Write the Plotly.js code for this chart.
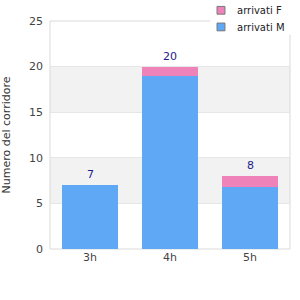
<!DOCTYPE html>
<html><head><meta charset="utf-8">
<script src="https://cdn.plot.ly/plotly-3.0.1.min.js"></script>
<style>html,body{margin:0;padding:0;background:#fff}#chart{width:300px;height:300px}</style>
</head><body><div id="chart"></div>
<script>
var categories = ["3h", "4h", "5h"];
var arrivatiM = [7, 19, 6.8];
var arrivatiF = [0, 1, 1.2];
var totals = [7, 20, 8];
var seriesNames = ["arrivati F", "arrivati M"];
var yTicks = [0, 5, 10, 15, 20, 25];

var colM = "#5fa8f5", colF = "#f082ba";
var font = "DejaVu Sans, sans-serif";

var traces = [
  {type: "bar", x: categories, y: arrivatiM, name: seriesNames[1], marker: {color: colM}, showlegend: false, hoverinfo: "none"},
  {type: "bar", x: categories, y: arrivatiF, name: seriesNames[0], marker: {color: colF}, showlegend: false, hoverinfo: "none"}
];

var shapes = [
  {type: "rect", xref: "paper", yref: "y", x0: 0, x1: 1, y0: 5, y1: 10, fillcolor: "#f2f2f2", line: {width: 0}, layer: "below"},
  {type: "rect", xref: "paper", yref: "y", x0: 0, x1: 1, y0: 15, y1: 20, fillcolor: "#f2f2f2", line: {width: 0}, layer: "below"},
  {type: "rect", xref: "paper", yref: "paper", x0: 0, x1: 1, y0: 0, y1: 1, fillcolor: "rgba(0,0,0,0)", line: {width: 1, color: "#d9d9d9"}, layer: "below"}
];
var annotations = [];
for (var i = 0; i < categories.length; i++) {
  annotations.push({x: categories[i], y: totals[i], text: String(totals[i]), showarrow: false, yanchor: "bottom", yshift: 2, font: {family: font, size: 11, color: "#1c1c8a"}});
}
// legend (manual, white box overlapping plot frame)
shapes.push({type: "rect", xref: "paper", yref: "paper", x0: 0.667, x1: 1.05, y0: 0.94, y1: 1.1, fillcolor: "#fff", line: {width: 0}, layer: "above"});
var legendY = [1.045, 0.972];
var legendCols = [colF, colM];
for (var j = 0; j < seriesNames.length; j++) {
  shapes.push({type: "rect", xref: "paper", yref: "paper", x0: 0.696, x1: 0.729, y0: legendY[j] - 0.015, y1: legendY[j] + 0.019, fillcolor: legendCols[j], line: {width: 1, color: "#777"}, layer: "above"});
  annotations.push({xref: "paper", yref: "paper", x: 0.77, y: legendY[j], xanchor: "left", yanchor: "middle", text: seriesNames[j], showarrow: false, font: {family: font, size: 10, color: "#222"}});
}

var layout = {
  width: 300, height: 300,
  margin: {l: 50, r: 10, t: 21, b: 51},
  barmode: "stack", bargap: 0.29,
  paper_bgcolor: "#fff", plot_bgcolor: "rgba(0,0,0,0)",
  showlegend: false,
  font: {family: font, size: 11, color: "#444"},
  xaxis: {showgrid: false, zeroline: false, showline: false, ticks: "", tickfont: {size: 11, color: "#444"}, fixedrange: true},
  yaxis: {range: [0, 25], tickvals: yTicks, showgrid: true, gridcolor: "#e6e6e6", zeroline: false, showline: false, ticks: "", tickfont: {size: 11, color: "#444"}, ticklabelstandoff: 6,
    title: {text: "Numero del corridore", font: {size: 11, color: "#333"}, standoff: 16}},
  shapes: shapes,
  annotations: annotations
};
Plotly.newPlot("chart", traces, layout, {displayModeBar: false, staticPlot: true});
</script></body></html>
